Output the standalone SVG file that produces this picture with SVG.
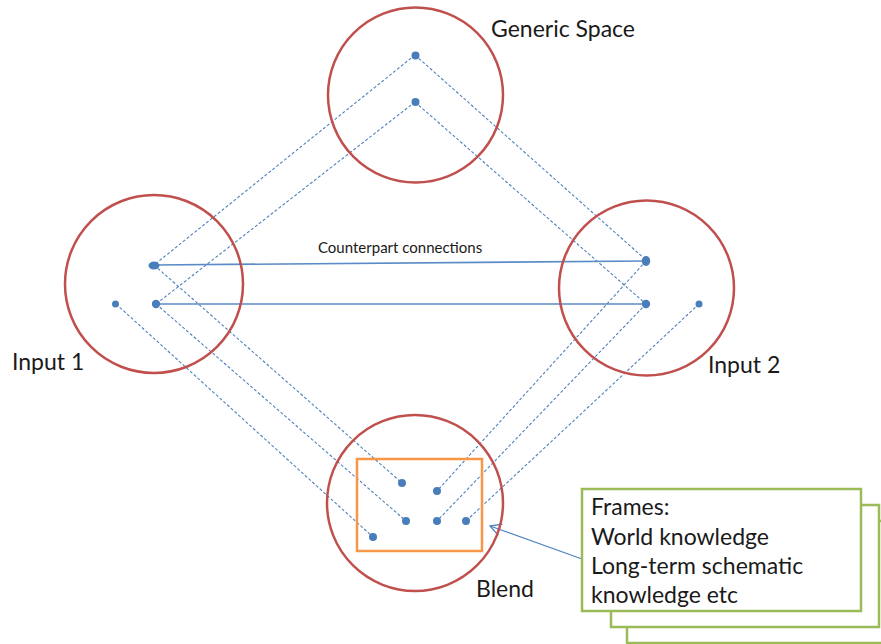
<svg xmlns="http://www.w3.org/2000/svg" width="881" height="644" viewBox="0 0 881 644">
<style>
.space{fill:none;stroke:#c0504d;stroke-width:2.5}
.dot{fill:#4a7ebb}
.map{fill:none;stroke:#4f81bd;stroke-width:1.1;stroke-dasharray:3 2}
.cp{fill:none;stroke:#5b8bc6;stroke-width:1.6}
.lbl{font-family:Lato,"Liberation Sans",sans-serif;font-size:23px;fill:#1a1a1a}
.frame{fill:#fff;stroke:#9bbb59;stroke-width:2.5}
</style>
<defs>
<marker id="open" markerWidth="14" markerHeight="14" refX="12" refY="7" orient="auto" markerUnits="userSpaceOnUse">
<path d="M1,1 L12,7 L1,13" fill="none" stroke="#4f81bd" stroke-width="1.3"/>
</marker>
</defs>
<rect width="881" height="644" fill="#fff"/>
<g id="connectors">
<line class="map" x1="415" y1="55" x2="154" y2="265"/>
<line class="map" x1="415" y1="55" x2="646" y2="260"/>
<line class="map" x1="415" y1="102" x2="156" y2="304"/>
<line class="map" x1="415" y1="102" x2="646" y2="304"/>
<line class="map" x1="116" y1="304" x2="373" y2="537"/>
<line class="map" x1="156" y1="304" x2="406" y2="521"/>
<line class="map" x1="154" y1="265" x2="402" y2="483"/>
<line class="map" x1="646" y1="261" x2="437" y2="491"/>
<line class="map" x1="646" y1="304" x2="437" y2="521"/>
<line class="map" x1="699" y1="304" x2="466" y2="521"/>
<line class="cp" x1="154" y1="265" x2="646" y2="261"/>
<line class="cp" x1="156" y1="304" x2="646" y2="304"/>
<line x1="582" y1="559" x2="490" y2="526" stroke="#4f81bd" stroke-width="1.2" marker-end="url(#open)"/>
<text x="318" y="253" style="font-family:Lato,'Liberation Sans',sans-serif;font-size:15px;fill:#1a1a1a">Counterpart connections</text>
</g>
<g id="generic">
<circle class="space" cx="415.5" cy="95" r="87.5"/>
<circle class="dot" cx="415.5" cy="55.5" r="4"/>
<circle class="dot" cx="415.5" cy="102" r="4"/>
<text class="lbl" x="491" y="37">Generic Space</text>
</g>
<g id="input1">
<circle class="space" cx="154" cy="284" r="89"/>
<ellipse class="dot" cx="154" cy="265.5" rx="5.5" ry="4"/>
<circle class="dot" cx="156" cy="304" r="4.2"/>
<circle class="dot" cx="115.5" cy="304" r="3.5"/>
<text class="lbl" x="12" y="370">Input 1</text>
</g>
<g id="input2">
<circle class="space" cx="646.5" cy="288" r="87.5"/>
<ellipse class="dot" cx="646" cy="261" rx="4.2" ry="5"/>
<circle class="dot" cx="646" cy="304" r="4.2"/>
<circle class="dot" cx="699" cy="304" r="3.5"/>
<text class="lbl" x="708" y="373">Input 2</text>
</g>
<g id="blend">
<circle class="space" cx="415" cy="503" r="88"/>
<rect x="357" y="459" width="125" height="92" fill="none" stroke="#f79646" stroke-width="2.5"/>
<circle class="dot" cx="402" cy="483" r="4"/>
<circle class="dot" cx="437" cy="491" r="4"/>
<circle class="dot" cx="406" cy="521" r="4"/>
<circle class="dot" cx="437" cy="521" r="4"/>
<circle class="dot" cx="466" cy="521" r="4"/>
<circle class="dot" cx="373" cy="537" r="4"/>
<text class="lbl" x="476" y="597">Blend</text>
</g>
<g id="frames">
<rect class="frame" x="627" y="521" width="270" height="122"/>
<rect class="frame" x="611" y="505" width="268" height="122"/>
<rect class="frame" x="582" y="489" width="279" height="122"/>
<text class="lbl" x="591" y="515">Frames:</text>
<text class="lbl" x="591" y="545">World knowledge</text>
<text class="lbl" x="591" y="574">Long-term schematic</text>
<text class="lbl" x="591" y="603">knowledge etc</text>
</g>
</svg>
